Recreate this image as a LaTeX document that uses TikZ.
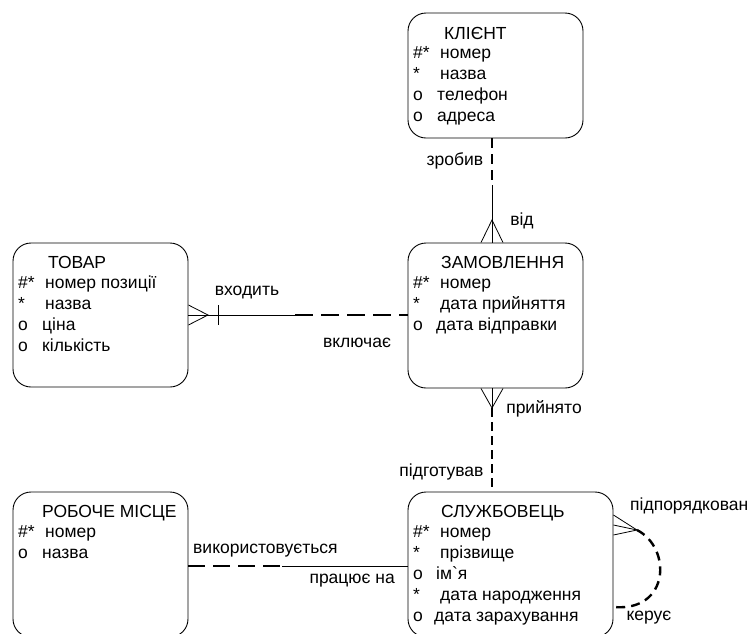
\documentclass[tikz,border=0pt]{standalone}
\usepackage{fontspec}
\setmainfont{Liberation Sans}[Ligatures=TeXOff]
\newcommand{\fsz}{\fontsize{17.5}{21}\selectfont}
\begin{document}
\begin{tikzpicture}[x=1pt,y=-1pt,
  ent/.style={draw, rounded corners=18pt, line width=0.9pt, inner sep=0pt},
  txt/.style={anchor=base west, inner sep=0pt, font=\fsz},
  lbl/.style={anchor=base, inner sep=0pt, font=\fsz},
  rel/.style={line width=0.8pt},
  opt/.style={line width=2.4pt, dash pattern=on 10pt off 6pt},
  opth/.style={line width=2.4pt, dash pattern=on 18pt off 8pt}]
\useasboundingbox (0,0) rectangle (748,633);
% entities
\node[ent, minimum width=175pt, minimum height=125pt] (kl) at (495.5,75.5) {};
\node[ent, minimum width=175pt, minimum height=145pt] (zam) at (495.5,315.5) {};
\node[ent, minimum width=175pt, minimum height=144pt] (tov) at (100.5,315) {};
\node[ent, minimum width=175pt, minimum height=145pt] (rob) at (100.5,564.5) {};
\node[ent, minimum width=205pt, minimum height=145pt] (slu) at (510.5,564.5) {};
% KLIENT text
\node[txt] (klt) at (444,39) {КЛІЄНТ};
\node[txt] (klm1) at (413,58) {\#*};  \node[txt] (klr1) at (440,58) {номер};
\node[txt] (klm2) at (413,79) {*};    \node[txt] (klr2) at (440,79) {назва};
\node[txt] (klm3) at (413,100) {o};   \node[txt] (klr3) at (437,100) {телефон};
\node[txt] (klm4) at (413,121) {o};   \node[txt] (klr4) at (437,121) {адреса};
% ZAMOVLENNIA text
\node[txt] (zt) at (441,268) {ЗАМОВЛЕННЯ};
\node[txt] (zm1) at (413,288) {\#*};  \node[txt] (zr1) at (440,288) {номер};
\node[txt] (zm2) at (413,309) {*};    \node[txt] (zr2) at (440,309) {дата прийняття};
\node[txt] (zm3) at (413,330) {o};    \node[txt] (zr3) at (436,330) {дата відправки};
% TOVAR text
\node[txt] (tt) at (48,268) {ТОВАР};
\node[txt] (tm1) at (18,288) {\#*};   \node[txt] (tr1) at (45,288) {номер позиції};
\node[txt] (tm2) at (18,309) {*};     \node[txt] (tr2) at (45,309) {назва};
\node[txt] (tm3) at (18,330) {o};     \node[txt] (tr3) at (42,330) {ціна};
\node[txt] (tm4) at (18,351) {o};     \node[txt] (tr4) at (42,351) {кількість};
% ROBOCHE MISTSE text
\node[txt] (rt) at (42,517) {РОБОЧЕ МІСЦЕ};
\node[txt] (rm1) at (18,537) {\#*};   \node[txt] (rr1) at (45,537) {номер};
\node[txt] (rm2) at (18,558) {o};     \node[txt] (rr2) at (42,558) {назва};
% SLUZHBOVETS text
\node[txt] (st) at (441,517) {СЛУЖБОВЕЦЬ};
\node[txt] (sm1) at (413,537) {\#*};  \node[txt] (sr1) at (440,537) {номер};
\node[txt] (sm2) at (413,558) {*};    \node[txt] (sr2) at (440,558) {прізвище};
\node[txt] (sm3) at (413,579) {o};    \node[txt] (sr3) at (436,579) {ім`я};
\node[txt] (sm4) at (413,600) {*};    \node[txt] (sr4) at (440,600) {дата народження};
\node[txt] (sm5) at (413,621) {o};    \node[txt] (sr5) at (434,621) {дата зарахування};
% helper coordinates
\coordinate (m1) at (492,185);
\coordinate (f1) at (492,220);
\coordinate (f2) at (492,408);
\coordinate (f3) at (208,315);
\coordinate (b1) at (218,305);
\coordinate (b2) at (218,325);
\coordinate (m3) at (295,315);
\coordinate (m4) at (282,566);
\coordinate (f5) at (637,530);
% KLIENT - ZAMOVLENNIA
\draw[opt] (m1 |- kl.south) -- (m1);
\draw[rel] (m1) -- (m1 |- zam.north);
\draw[rel] ([xshift=-14.5pt]zam.north) -- (f1) -- ([xshift=7.5pt]zam.north);
\node[lbl] (l1) at (455,165) {зробив};
\node[lbl] (l2) at (522,225) {від};
% ZAMOVLENNIA - SLUZHBOVETS
\draw[rel] ([xshift=-14.5pt]zam.south) -- (f2) -- ([xshift=7.5pt]zam.south);
\draw[rel] (f2 |- zam.south) -- (f2);
\draw[opt, dash pattern=on 9pt off 5pt] (f2) -- (f2 |- slu.north);
\node[lbl] (l3) at (544,413) {прийнято};
\node[lbl] (l4) at (441.5,476) {підготував};
% TOVAR - ZAMOVLENNIA
\draw[rel] (tov.east) -- (m3);
\draw[rel] ([yshift=10pt]tov.east) -- (f3) -- ([yshift=-10pt]tov.east);
\draw[rel] (b1) -- (b2);
\draw[opth] (m3) -- (zam.west |- m3);
\node[lbl] (l5) at (247,295) {входить};
\node[lbl] (l6) at (357,347) {включає};
% ROBOCHE - SLUZHBOVETS
\draw[opth, dash pattern=on 17pt off 8pt] (rob.east |- m4) -- (m4);
\draw[rel] (m4) -- (slu.west |- m4);
\node[txt] (l7) at (193,553) {використовується};
\node[lbl, anchor=base east] (l8) at (395,583) {працює на};
% self relation
\draw[rel] ([yshift=49.5pt]slu.east) -- (f5) -- ([yshift=29.5pt]slu.east);
\draw[rel] ([yshift=39.5pt]slu.east) -- (f5);
\draw[opt, dash pattern=on 9pt off 6pt] (f5) .. controls (672,548) and (670,612) .. ([yshift=-42.5pt]slu.east);
\node[txt] (l9) at (630,510) {підпорядкован};
\node[lbl] (l10) at (649,620) {керує};
\end{tikzpicture}
\end{document}
